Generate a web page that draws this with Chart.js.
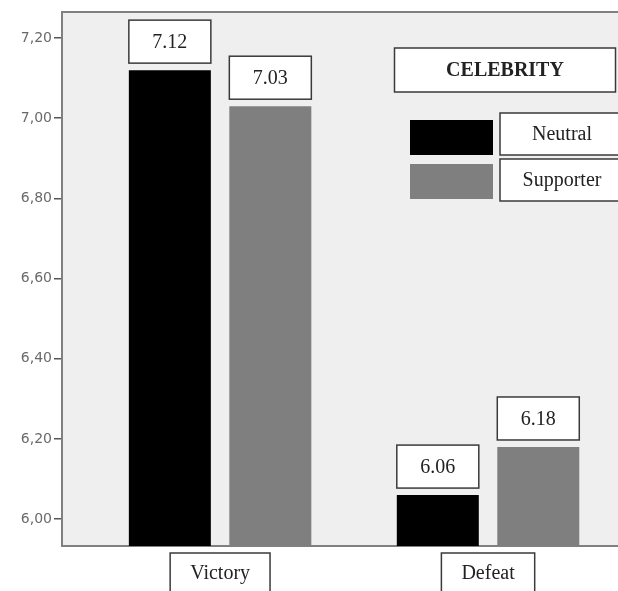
<!DOCTYPE html>
<html>
<head>
<meta charset="utf-8">
<script src="https://cdn.jsdelivr.net/npm/chart.js@4.4.1/dist/chart.umd.min.js"></script>
<style>
  html, body { margin: 0; padding: 0; background: #fff; overflow: hidden; }
  canvas { display: block; }
</style>
</head>
<body>
<canvas id="chart" width="618" height="591"></canvas>
<script>
// ==========================================
// DATA
// ==========================================
const categories = ['Victory', 'Defeat'];
const seriesNames = ['Neutral', 'Supporter'];
const neutralMeans = [7.12, 6.06];
const supporterMeans = [7.03, 6.18];
const yTickStep = 0.2;
const legendTitle = 'CELEBRITY';

const seriesColors = ['#000000', '#7f7f7f'];
const serif = "'Liberation Serif', 'Times New Roman', serif";

// white box with a dark outline and centred text in it
function boxedText(ctx, text, cx, top, w, h, font) {
  ctx.save();
  ctx.fillStyle = '#fff';
  ctx.strokeStyle = '#3a3a3a';
  ctx.lineWidth = 1.5;
  ctx.fillRect(cx - w / 2, top, w, h);
  ctx.strokeRect(cx - w / 2, top, w, h);
  if (text) {
    ctx.font = font;
    ctx.fillStyle = '#222';
    ctx.textAlign = 'center';
    ctx.textBaseline = 'middle';
    ctx.fillText(text, cx, top + h / 2 + 1);
  }
  ctx.restore();
}

// ==========================================
// PLUGINS
// ==========================================
// grey plot area, top frame line and boxes behind the category labels
const plotFrame = {
  id: 'plotFrame',
  beforeDraw(chart) {
    const { ctx, chartArea: a, scales } = chart;
    ctx.save();
    ctx.fillStyle = '#efefef';
    ctx.fillRect(a.left, a.top, a.right - a.left, a.bottom - a.top);
    ctx.strokeStyle = '#808080';
    ctx.lineWidth = 2;
    ctx.beginPath();
    ctx.moveTo(a.left, a.top);
    ctx.lineTo(a.right, a.top);
    ctx.stroke();

    ctx.font = '20px ' + serif;
    categories.forEach((c, i) => {
      const x = scales.x.getPixelForValue(i);
      const w = ctx.measureText(c).width + 40;
      boxedText(ctx, '', x, a.bottom + 7, w, 50);
    });
    ctx.restore();
  }
};

// value boxes sitting on top of every bar
const valueBoxes = {
  id: 'valueBoxes',
  afterDatasetsDraw(chart) {
    const ctx = chart.ctx;
    chart.data.datasets.forEach((ds, di) => {
      chart.getDatasetMeta(di).data.forEach((bar, i) => {
        const h = 43;
        boxedText(ctx, ds.data[i].y.toFixed(2), bar.x, bar.y - 7 - h, bar.width, h, '20px ' + serif);
      });
    });
  }
};

// legend: title box, then a swatch plus a boxed name for each series
const boxLegend = {
  id: 'boxLegend',
  afterDraw(chart) {
    const ctx = chart.ctx;
    boxedText(ctx, legendTitle, 505, 48, 221, 44, 'bold 20px ' + serif);
    const rows = [{ sw: 120, box: 113 }, { sw: 164, box: 159 }];
    chart.data.datasets.forEach((ds, i) => {
      ctx.save();
      ctx.fillStyle = ds.backgroundColor;
      ctx.fillRect(410, rows[i].sw, 83, 35);
      ctx.restore();
      boxedText(ctx, ds.label, 562, rows[i].box, 124, 42, '20px ' + serif);
    });
  }
};

// ==========================================
// CHART
// ==========================================
const meansBySeries = [neutralMeans, supporterMeans];

new Chart(document.getElementById('chart'), {
  type: 'bar',
  data: {
    datasets: seriesNames.map((name, s) => ({
      label: name,
      data: meansBySeries[s].map((v, i) => ({ x: i, y: v })),
      backgroundColor: seriesColors[s],
      borderWidth: 0,
      categoryPercentage: 0.75,
      barPercentage: 0.816
    }))
  },
  options: {
    responsive: false,
    animation: false,
    layout: { padding: { top: 12, right: 0, left: 0, bottom: 0 } },
    plugins: {
      legend: { display: false },
      tooltip: { enabled: false }
    },
    scales: {
      x: {
        type: 'linear',
        offset: false,
        // groups sit off-centre in the frame, so the range is asymmetric
        min: -0.59,
        max: 1.485,
        afterBuildTicks: s => { s.ticks = categories.map((_, i) => ({ value: i })); },
        afterFit: s => { s.height = 45; },
        grid: { display: false, drawTicks: false },
        border: { display: true, color: '#808080', width: 2 },
        ticks: {
          padding: 16,
          color: '#222',
          font: { family: serif, size: 20 },
          callback: v => categories[v]
        }
      },
      y: {
        min: 5.933,
        max: 7.265,
        afterFit: s => { s.width = 62; },
        grid: { drawOnChartArea: false, drawTicks: true, tickLength: 8, color: '#555', lineWidth: 1.5 },
        border: { display: true, color: '#808080', width: 2 },
        ticks: {
          stepSize: yTickStep,
          includeBounds: false,
          padding: 2,
          color: '#6a6a6a',
          font: { family: "'DejaVu Sans', sans-serif", size: 14 },
          callback: v => v.toFixed(2).replace('.', ',')
        }
      }
    }
  },
  plugins: [plotFrame, valueBoxes, boxLegend]
});
</script>
</body>
</html>
